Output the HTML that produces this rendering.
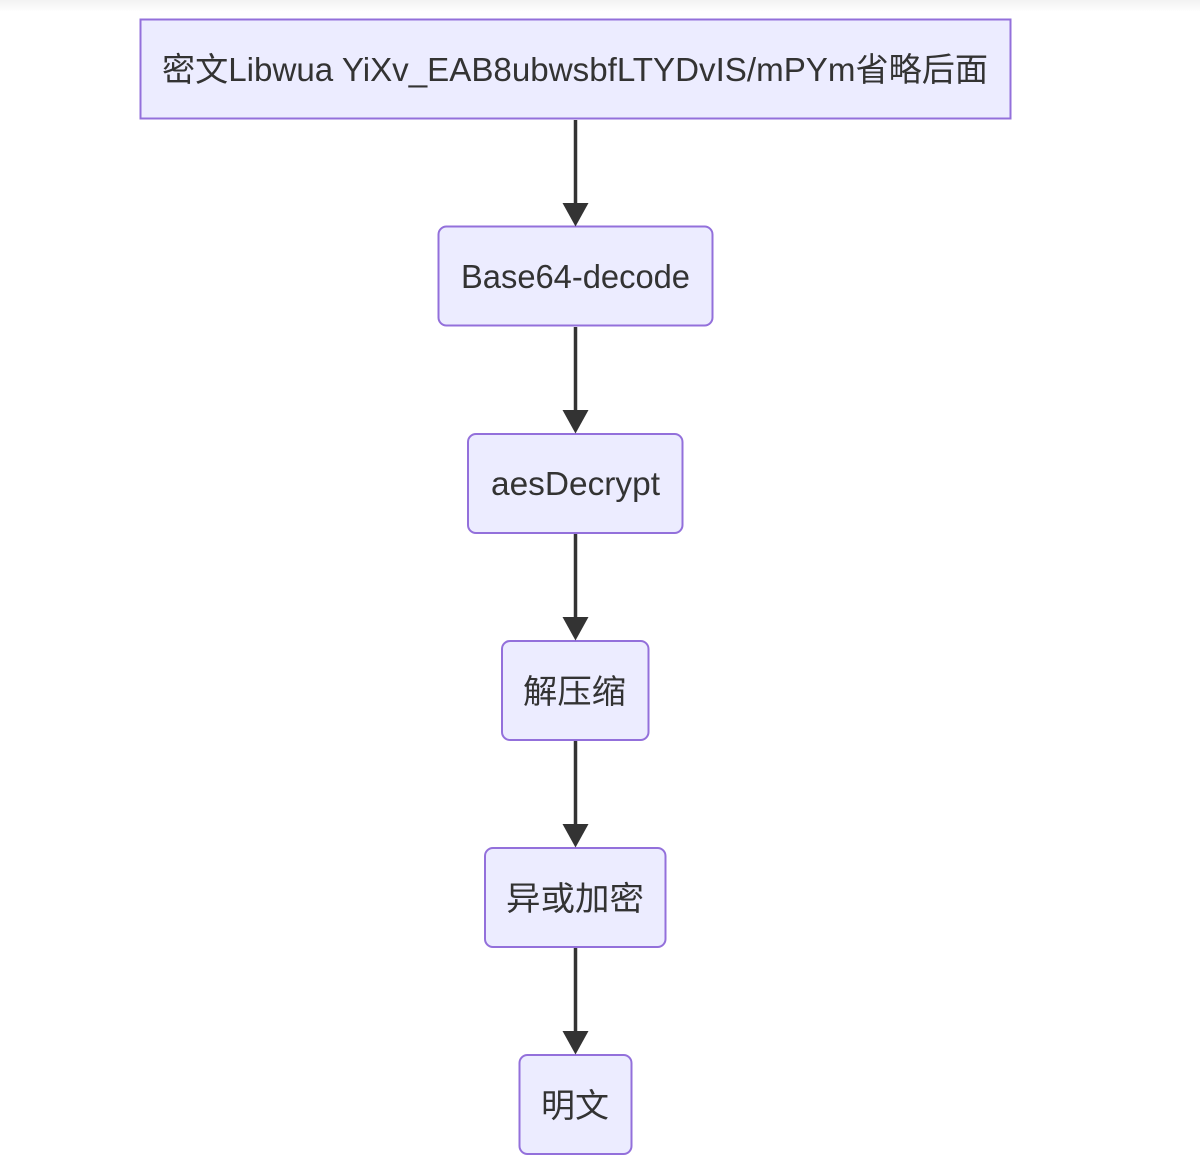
<!DOCTYPE html>
<html>
<head>
<meta charset="utf-8">
<style>
  html, body { margin: 0; padding: 0; background: #ffffff; }
  body { width: 1200px; height: 1172px; overflow: hidden; position: relative; }
  .shade { position: absolute; left: 0; top: 0; width: 1200px; height: 12px;
           background: linear-gradient(#f2f2f2, #ffffff); }
  svg { position: absolute; left: 0; top: 0; }
  text { font-family: "Liberation Sans", "Noto Sans CJK SC", sans-serif; font-size: 33px; fill: #333333; }
</style>
</head>
<body>
<div class="shade"></div>
<svg width="1200" height="1172" viewBox="0 0 1200 1172" xmlns="http://www.w3.org/2000/svg">
  <g fill="#ECECFF" stroke="#9370DB" stroke-width="2">
    <rect x="140.5" y="19.5" width="870" height="99" />
    <rect x="438.5" y="226.5" width="274" height="99" rx="8" ry="8" />
    <rect x="468" y="434" width="214.5" height="99" rx="8" ry="8" />
    <rect x="502" y="641" width="146.5" height="99" rx="8" ry="8" />
    <rect x="485" y="848" width="180.5" height="99" rx="8" ry="8" />
    <rect x="519.5" y="1055" width="112" height="99" rx="8" ry="8" />
  </g>
  <g stroke="#333333" stroke-width="3.5">
    <line x1="575.5" y1="120" x2="575.5" y2="206" />
    <line x1="575.5" y1="327" x2="575.5" y2="413" />
    <line x1="575.5" y1="534" x2="575.5" y2="620" />
    <line x1="575.5" y1="741" x2="575.5" y2="827" />
    <line x1="575.5" y1="948" x2="575.5" y2="1034" />
  </g>
  <g fill="#333333">
    <polygon points="562.5,203 588.5,203 575.5,226.5" />
    <polygon points="562.5,410 588.5,410 575.5,433.5" />
    <polygon points="562.5,617 588.5,617 575.5,640.5" />
    <polygon points="562.5,824 588.5,824 575.5,847.5" />
    <polygon points="562.5,1031 588.5,1031 575.5,1054.5" />
  </g>
  <text x="162" y="81" textLength="826" lengthAdjust="spacingAndGlyphs">密文Libwua YiXv_EAB8ubwsbfLTYDvIS/mPYm省略后面</text>
  <text x="461" y="288" textLength="229" lengthAdjust="spacingAndGlyphs">Base64-decode</text>
  <text x="491" y="495" textLength="169" lengthAdjust="spacingAndGlyphs">aesDecrypt</text>
  <text x="523" y="703" textLength="103" lengthAdjust="spacingAndGlyphs">解压缩</text>
  <text x="506" y="910" textLength="138" lengthAdjust="spacingAndGlyphs">异或加密</text>
  <text x="541" y="1117" textLength="68" lengthAdjust="spacingAndGlyphs">明文</text>
</svg>
</body>
</html>
